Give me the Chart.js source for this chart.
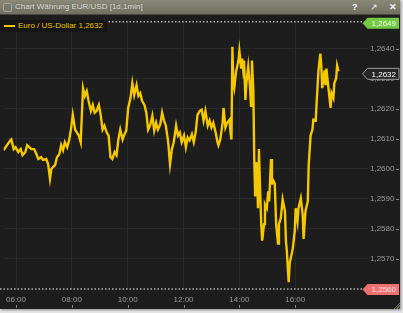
<!DOCTYPE html>
<html><head><meta charset="utf-8">
<script src="https://cdn.jsdelivr.net/npm/chart.js@4.4.1/dist/chart.umd.min.js"></script>
<style>
html,body{margin:0;padding:0;}
body{width:403px;height:313px;overflow:hidden;background:#e4e4e4;font-family:"Liberation Sans",Arial,sans-serif;position:relative;}
#win{position:absolute;left:0;top:0;width:400px;height:309px;background:#1d1d1d;box-shadow:1px 1px 2px #8a8a8a;}
#bar{position:absolute;left:0;top:0;width:400px;height:15px;background:linear-gradient(#8a8877,#716f60);border-bottom:1px solid #4a493f;box-sizing:border-box;}
#chk{position:absolute;left:3px;top:3px;width:7px;height:7px;border:1px solid #a9a797;border-radius:2px;background:#7a786a;}
#ttl{position:absolute;left:15px;top:2px;font-size:8px;line-height:10px;color:#ecebe4;text-shadow:0 0 1px #3d3c33;white-space:nowrap;}
.ic{position:absolute;top:1px;font-size:9px;line-height:12px;color:#f4f4f4;font-weight:bold;}
#cv{position:absolute;left:0;top:15px;}
#leg{position:absolute;left:0;top:20px;height:12px;width:107px;background:#151515;font-size:8px;line-height:12px;color:#e9c300;white-space:nowrap;}
#leg i{position:absolute;left:4px;top:5px;width:11px;height:2px;background:#f2c600;}
#leg span{position:absolute;left:18px;top:0;}
#grip{position:absolute;left:393px;top:302px;width:7px;height:7px;background:repeating-linear-gradient(135deg,transparent 0 1px,#77765f 1px 2px);clip-path:polygon(100% 0,100% 100%,0 100%);}
</style></head>
<body>
<div id="win">
  <div id="bar"><div id="chk"></div><div id="ttl">Chart Währung EUR/USD [1d,1min]</div>
    <div class="ic" style="left:352px">?</div>
    <div class="ic" style="left:370px;font-weight:normal">&#x2197;</div>
    <div class="ic" style="left:389px">&#x2715;</div>
  </div>
  <canvas id="cv" width="400" height="294"></canvas>
  <div id="leg"><i></i><span id="legtxt"></span></div>
  <div id="grip"></div>
</div>
<script>
const seriesLabel = 'Euro / US-Dollar';
// minutes since midnight
const times = [333,348,350,355,359,365,370,374,380,384,389,393,399,404,408,414,418,425,429,433,436,440,444,448,453,457,461,465,470,474,478,482,487,491,495,499,504,508,512,516,521,525,529,533,538,542,546,550,555,559,563,567,572,576,580,584,589,593,597,601,606,610,614,619,623,627,631,636,640,644,648,653,657,661,665,670,674,678,682,687,691,695,699,704,708,712,716,721,725,729,733,738,742,746,750,755,759,763,767,772,776,780,784,789,793,795,799,804,806,810,814,819,821,823,825,827,829,833,838,840,844,846,848,850,853,855,859,861,863,865,867,870,872,874,876,878,880,882,884,887,889,893,895,899,902,904,908,910,912,916,919,923,925,929,933,938,940,942,944,946,948,953,955,959,961,965,967,972,976,978,982,987,989,993,997,999,1004,1006,1010,1014,1016,1018,1023,1025,1027,1031,1036,1038,1042,1044,1048,1050,1053];
const values = [1.26062,1.26095,1.26098,1.26066,1.26072,1.26056,1.26066,1.26046,1.26056,1.26079,1.26072,1.26066,1.26066,1.26049,1.26033,1.26039,1.26030,1.26033,1.26016,1.25967,1.26000,1.26007,1.26013,1.26039,1.26049,1.26079,1.26062,1.26089,1.26072,1.26095,1.26131,1.26180,1.26131,1.26121,1.26111,1.26089,1.26269,1.26243,1.26259,1.26226,1.26193,1.26213,1.26187,1.26193,1.26213,1.26180,1.26131,1.26144,1.26121,1.26111,1.26039,1.26033,1.26056,1.26046,1.26098,1.26131,1.26098,1.26115,1.26128,1.26203,1.26236,1.26285,1.26246,1.26279,1.26243,1.26252,1.26226,1.26213,1.26187,1.26131,1.26144,1.26177,1.26128,1.26154,1.26131,1.26148,1.26187,1.26161,1.26144,1.26089,1.26016,1.26066,1.26089,1.26144,1.26111,1.26121,1.26089,1.26111,1.26072,1.26105,1.26095,1.26115,1.26089,1.26121,1.26180,1.26193,1.26197,1.26161,1.26193,1.26144,1.26161,1.26138,1.26154,1.26121,1.26089,1.26079,1.26098,1.26154,1.26203,1.26138,1.26154,1.26164,1.26121,1.26098,1.26407,1.26285,1.26269,1.26325,1.26361,1.26393,1.26334,1.26367,1.26334,1.26361,1.26230,1.26285,1.26341,1.26308,1.26269,1.26210,1.26361,1.26262,1.26033,1.25908,1.26023,1.25980,1.25869,1.26066,1.25957,1.25816,1.25761,1.25816,1.25882,1.25869,1.25925,1.25892,1.26033,1.25948,1.25964,1.25951,1.25816,1.25751,1.25816,1.25836,1.25898,1.25859,1.25761,1.25728,1.25672,1.25623,1.25685,1.25721,1.25738,1.25793,1.25869,1.25826,1.25869,1.25902,1.25849,1.25767,1.25859,1.25892,1.26013,1.26111,1.26131,1.26164,1.26161,1.26220,1.26328,1.26384,1.26344,1.26269,1.26328,1.26279,1.26334,1.26275,1.26203,1.26252,1.26236,1.26285,1.26302,1.26344,1.26325];
const xTickMinutes = [360,480,600,720,840,960];
const xTickLabels = ['06:00','08:00','10:00','12:00','14:00','16:00'];
const yTickValues = [1.2570,1.2580,1.2590,1.2600,1.2610,1.2620,1.2630,1.2640];
const scaleHigh = 1.2649;
const scaleLow = 1.2560;
const lastValue = 1.2632;
const xMin = 333.4, xMax = 1116.4;

const fmt = v => v.toFixed(4).replace('.', ',');
document.getElementById('legtxt').textContent = seriesLabel + ' ' + fmt(lastValue);

const points = times.map((t, i) => ({x: t, y: values[i]}));
const FONT = {family: '"Liberation Sans", Arial, sans-serif', size: 8};

function badge(ctx, cy, fill, txt, stroke, text) {
  const l = 362.5, r = 399, h = 5.5;
  ctx.beginPath();
  ctx.moveTo(l, cy); ctx.lineTo(l + 5, cy - h); ctx.lineTo(r, cy - h);
  ctx.lineTo(r, cy + h); ctx.lineTo(l + 5, cy + h); ctx.closePath();
  ctx.fillStyle = fill; ctx.fill();
  if (stroke) { ctx.strokeStyle = stroke; ctx.lineWidth = 1; ctx.stroke(); }
  ctx.fillStyle = txt; ctx.font = '8px "Liberation Sans", Arial, sans-serif';
  ctx.textAlign = 'right'; ctx.textBaseline = 'middle';
  ctx.fillText(text, 396, cy + 0.5);
}

const deco = {
  id: 'deco',
  beforeDraw(c) {
    const ctx = c.ctx; ctx.save(); ctx.fillStyle = '#1d1d1d';
    ctx.fillRect(0, 0, c.width, c.height); ctx.restore();
  },
  afterDraw(c) {
    const ctx = c.ctx, ys = c.scales.y, xs = c.scales.x;
    ctx.save();
    ctx.strokeStyle = '#8a8a8a'; ctx.lineWidth = 1;
    ys.ticks.forEach(t => {
      const py = Math.round(ys.getPixelForValue(t.value)) + 0.5;
      ctx.beginPath(); ctx.moveTo(396, py); ctx.lineTo(399, py); ctx.stroke();
    });
    xs.ticks.forEach(t => {
      const px = Math.round(xs.getPixelForValue(t.value)) + 0.5;
      ctx.beginPath(); ctx.moveTo(px, 290); ctx.lineTo(px, 293); ctx.stroke();
    });
    ctx.strokeStyle = '#b4b4b4'; ctx.lineWidth = 1.5; ctx.setLineDash([1.5, 2]);
    [scaleHigh, scaleLow].forEach(v => {
      const py = ys.getPixelForValue(v);
      ctx.beginPath(); ctx.moveTo(0, py); ctx.lineTo(362, py); ctx.stroke();
    });
    ctx.setLineDash([]);
    badge(ctx, ys.getPixelForValue(scaleHigh) + 1.5, '#74c944', '#effce6', null, fmt(scaleHigh));
    badge(ctx, ys.getPixelForValue(scaleLow) + 0.5, '#ef7070', '#ffe9e9', null, fmt(scaleLow));
    badge(ctx, ys.getPixelForValue(lastValue) + 1, '#262626', '#ffffff', '#9a9a9a', fmt(lastValue));
    ctx.restore();
  }
};

new Chart(document.getElementById('cv'), {
  type: 'line',
  data: { datasets: [{
    label: seriesLabel, data: points, borderColor: '#f6c800', borderWidth: 2.4,
    pointRadius: 0, tension: 0, fill: false, borderJoinStyle: 'miter'
  }]},
  options: {
    responsive: false, animation: false, devicePixelRatio: 1,
    layout: { padding: { top: 2.5, left: 0, right: 0, bottom: 0 } },
    plugins: { legend: { display: false }, tooltip: { enabled: false } },
    scales: {
      x: {
        type: 'linear', min: xMin, max: xMax,
        afterBuildTicks: s => { s.ticks = xTickMinutes.map(v => ({value: v})); },
        afterFit: s => { s.height = 20; },
        grid: { color: '#2a2a2a', drawTicks: false },
        border: { display: false },
        ticks: { color: '#9a9a9a', font: FONT, padding: 6, maxRotation: 0, autoSkip: false,
          callback: v => xTickLabels[xTickMinutes.indexOf(v)] }
      },
      y: {
        position: 'right', min: scaleLow, max: scaleHigh,
        afterBuildTicks: s => { s.ticks = yTickValues.map(v => ({value: v})); },
        afterFit: s => { s.width = 32; },
        grid: { color: '#2a2a2a', drawTicks: false },
        border: { display: false },
        ticks: { color: '#9a9a9a', font: FONT, padding: 2, autoSkip: false,
          callback: v => fmt(v) }
      }
    }
  },
  plugins: [deco]
});
</script>
</body></html>
